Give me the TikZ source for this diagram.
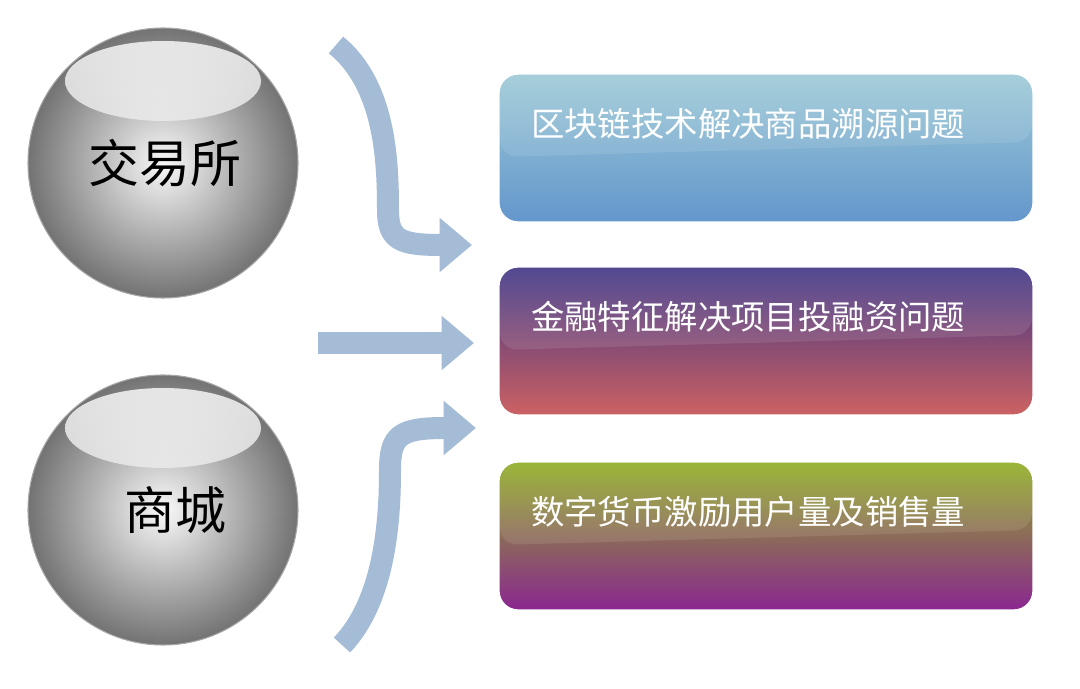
\documentclass[tikz,border=0pt]{standalone}
\usepackage{fontspec}
\newfontfamily\cjk{Noto Sans CJK SC}
\usetikzlibrary{arrows.meta}
\definecolor{arr}{HTML}{A4BCD6}
\tikzset{
 box/.style={rounded corners=12pt, minimum width=10.76cm, minimum height=3cm, inner sep=0pt},
 boxtxt/.style={text=white, font=\cjk\fontsize{19}{22}\selectfont, anchor=west},
 flow/.style={arr, line width=0.44cm, -{Triangle[width=1.05cm,length=0.65cm]}},
 sph/.style={circle, minimum size=5.4cm, inner sep=0pt, font=\cjk\fontsize{29}{33}\selectfont}
}
\begin{document}
\begin{tikzpicture}[x=0.02cm,y=-0.02cm]
\useasboundingbox (0,0) rectangle (1080,689);
\fill[white] (0,0) rectangle (1080,689);
% spheres
\foreach \n/\cy/\t/\dx in {s1/163/交易所/2, s2/510/商城/12}{
  \shade[inner color=gray!5, outer color=gray!90!black, draw=gray!70, line width=0.6pt] (163,\cy) circle (135);
  \shade[top color=white, bottom color=gray!15, opacity=0.8] (163,\cy-82) ellipse (98 and 40);
  \node[sph] (\n) at (163+\dx,\cy) {\t};
}
% boxes
\foreach \n/\ya/\ca/\cb/\t in {
 b1/72/9DCAD6/6396CC/区块链技术解决商品溯源问题,
 b2/265/3C3486/CE6262/金融特征解决项目投融资问题,
 b3/460/8FB020/8A2592/数字货币激励用户量及销售量}{
  \definecolor{ca}{HTML}{\ca}\definecolor{cb}{HTML}{\cb}
  \shade[rounded corners=12pt, top color=ca, bottom color=cb, draw=white, line width=3pt]
    (497,\ya) rectangle (1035,\ya+152);
  \fill[white, opacity=0.1, rounded corners=10pt] (500,\ya+3) -- (1032,\ya+3) -- (1032,\ya+70) -- (500,\ya+85) -- cycle;
  \node[box] (\n) at (766,\ya+76) {};
  \node[boxtxt] at (525,\ya+52) {\t};
}
\coordinate (t0) at (336,45);
\coordinate (t1) at (472,245);
\coordinate (m0) at (318,343);
\coordinate (m1) at (474,343);
\coordinate (u0) at (342,645);
\coordinate (u1) at (476,428);
\draw[flow] (t0) .. controls (385,85) and (388,160) .. (388,210) .. controls (388,240) and (400,245) .. (t1);
\draw[flow] (m0) -- (m1);
\draw[flow] (u0) .. controls (385,600) and (390,520) .. (390,470) .. controls (390,435) and (400,428) .. (u1);
\end{tikzpicture}
\end{document}
